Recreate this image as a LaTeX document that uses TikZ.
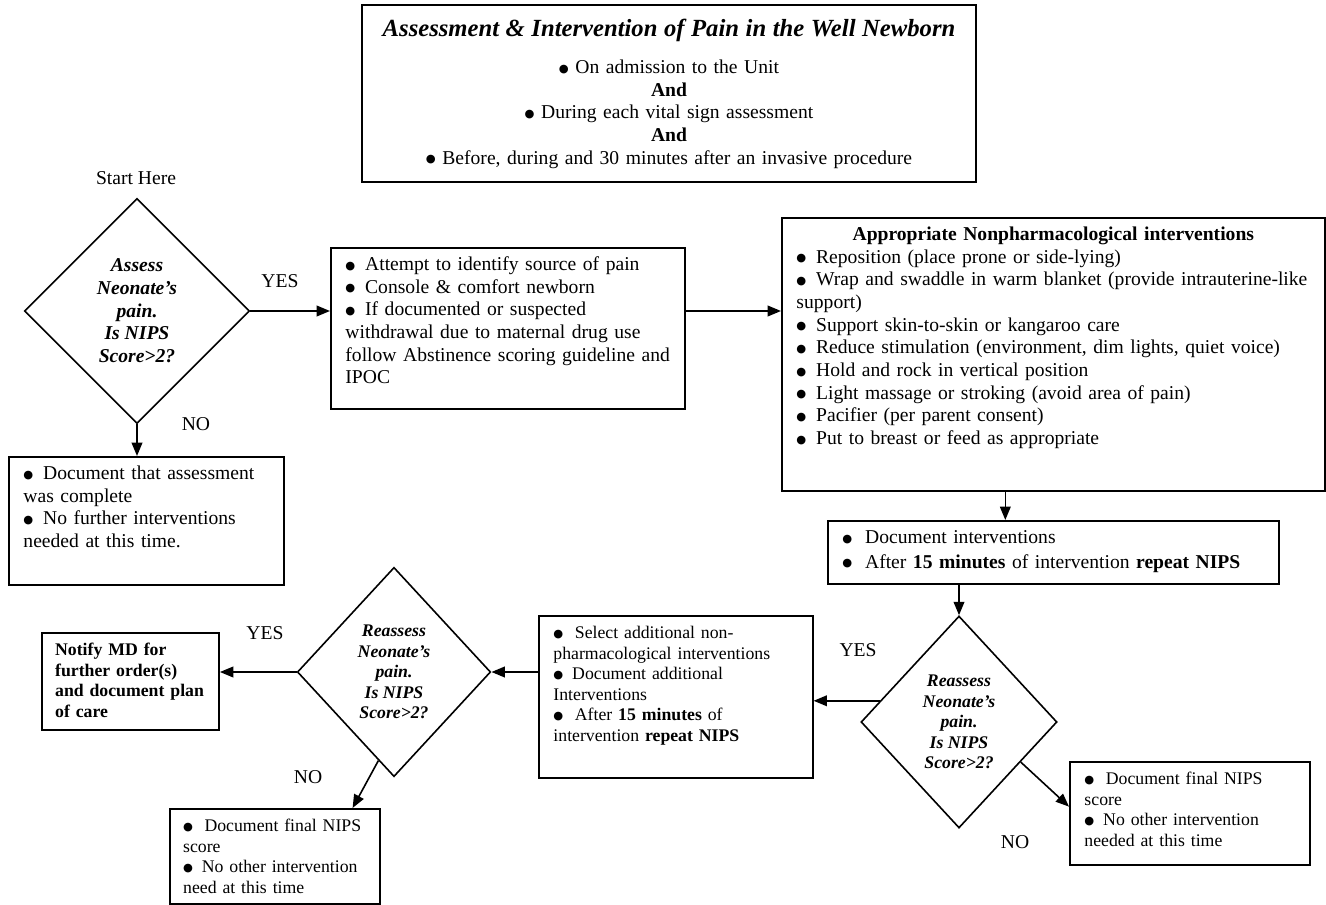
\documentclass[tikz,border=0pt]{standalone}
\usepackage{fontspec}
\setmainfont{Liberation Serif}
\newfontfamily\symfont{DejaVu Sans}
\usetikzlibrary{shapes.geometric, arrows.meta}
\newcommand{\bigsz}{\fontsize{14.7}{17}\selectfont}
\newcommand{\smallsz}{\fontsize{13.3}{15.4}\selectfont}
\newcommand{\bdot}{\raisebox{0.9pt}{\symfont\fontsize{8.5}{9}\selectfont ●}}
\newcommand{\bpt}{\bdot\enspace}
\newcommand{\bptw}{\bdot\hspace{0.65em}}
\tikzset{
    x=0.75pt, y=-0.75pt,    % one unit = one pixel of the sheet
    box/.style={            % text boxes, text kept at the top
        draw,
        line width=1.2pt,
        anchor=north west,
        align=left,
        inner xsep=11pt,
        inner ysep=3pt,
        text height=14pt,
        font=\bigsz
    },
    decision/.style={       % the question diamonds
        diamond,
        draw,
        line width=1.2pt,
        inner sep=0pt,
        align=center,
        font=\smallsz\bfseries\itshape
    },
    lbl/.style={font=\bigsz},
    arr/.style={
        draw,
        line width=1.2pt,
        -{Triangle[length=10pt, width=8pt]}
    }
}

\begin{document}
\begin{tikzpicture}
    \useasboundingbox (0,0) rectangle (1326,905);
    \node[draw, line width=1.2pt, minimum width=460.5pt, minimum height=132.75pt, text width=440pt, align=center, font=\bigsz] (title) at (669,93.5)
        {{\fontsize{18.5}{21}\selectfont\bfseries\itshape Assessment \& Intervention of Pain in the Well Newborn}\\[11pt]
         \bdot\ On admission to the Unit\\ \textbf{And}\\ \bdot\ During each vital sign assessment\\ \textbf{And}\\
         \bdot\ Before, during and 30 minutes after an invasive procedure};
    \node[lbl] (start) at (136,178) {Start Here};
    \node[decision, font=\bigsz\bfseries\itshape, minimum width=168.75pt, minimum height=168.75pt] (assess) at (137,311) {Assess\\Neonate’s\\pain.\\Is NIPS\\Score>2?};
    \node[box, text width=243.5pt, text depth=100.75pt] (soothe) at (330,247)
        {\bpt Attempt to identify source of pain\\ \bpt Console \& comfort newborn\\ \bpt If documented or suspected\\
         withdrawal due to maternal drug use\\ follow Abstinence scoring guideline and\\ IPOC};
    \node[box, text width=385.25pt, text depth=184.75pt] (comfort) at (781,217)
        {\makebox[\linewidth][c]{\textbf{Appropriate Nonpharmacological interventions}}\\
         \bpt Reposition (place prone or side-lying)\\
         \bpt Wrap and swaddle in warm blanket (provide intrauterine-like\\ support)\\
         \bpt Support skin-to-skin or kangaroo care\\
         \bpt Reduce stimulation (environment, dim lights, quiet voice)\\
         \bpt Hold and rock in vertical position\\
         \bpt Light massage or stroking (avoid area of pain)\\
         \bpt Pacifier (per parent consent)\\
         \bpt Put to breast or feed as appropriate};
    \node[box, text width=184.25pt, text depth=76pt] (done) at (8,456)
        {\bpt Document that assessment\\ was complete\\ \bpt No further interventions\\ needed at this time.};
    \node[box, text width=316.25pt, text depth=27.25pt] (docint) at (827,520)
        {\bptw Document interventions\\[1.5pt] \bptw After \textbf{15 minutes} of intervention \textbf{repeat NIPS}};
    \node[decision, minimum width=147pt, minimum height=159pt] (reassess) at (959,722) {Reassess\\Neonate’s\\pain.\\Is NIPS\\Score>2?};
    \node[box, font=\smallsz, text width=183.5pt, text depth=101.5pt] (addint) at (538,615)
        {\bptw Select additional non-\\ pharmacological interventions\\ \bpt Document additional\\ Interventions\\
         \bptw After \textbf{15 minutes} of\\ intervention \textbf{repeat NIPS}};
    \node[decision, minimum width=145pt, minimum height=157pt] (recheck) at (394,672) {Reassess\\Neonate’s\\pain.\\Is NIPS\\Score>2?};
    \node[box, font=\smallsz\bfseries, inner xsep=10pt, text width=113pt, text depth=52.75pt] (notify) at (41,632)
        {Notify MD for\\ further order(s)\\ and document plan\\ of care};
    \node[box, font=\smallsz, inner xsep=10pt, text width=137.5pt, text depth=51.25pt] (finalL) at (169,808)
        {\bptw Document final NIPS\\ score\\ \bpt No other intervention\\ need at this time};
    \node[box, font=\smallsz, text width=158pt, text depth=57.25pt] (finalR) at (1069,761)
        {\bptw Document final NIPS\\ score\\ \bpt No other intervention\\ needed at this time};
    \node[lbl] (yes1) at (280,281) {YES};
    \node[lbl] (no1) at (196,424) {NO};
    \node[lbl] (yes2) at (858,650) {YES};
    \node[lbl] (no2) at (1015,842) {NO};
    \node[lbl] (yes3) at (265,633) {YES};
    \node[lbl] (no3) at (308,777) {NO};
    \draw[arr] (assess.east) -- (assess.east -| soothe.west);
    \draw[arr] (assess.east -| soothe.east) -- (assess.east -| comfort.west);
    \draw[arr] (assess.south) -- (assess.south |- done.north);
    \draw[arr] ([xshift=-36pt]comfort.south) -- ([xshift=-36pt]comfort.south |- docint.north);
    \draw[arr] (reassess.north |- docint.south) -- (reassess.north);
    \draw[arr] (reassess.165) -- (reassess.165 -| addint.east);
    \draw[arr] (reassess.-33) -- ([yshift=5pt]finalR.west);
    \draw[arr] (recheck.east -| addint.west) -- (recheck.east);
    \draw[arr] (recheck.west) -- (recheck.west -| notify.east);
    \draw[arr] (recheck.260) -- ([xshift=-21pt]finalL.north east);
\end{tikzpicture}
\end{document}
